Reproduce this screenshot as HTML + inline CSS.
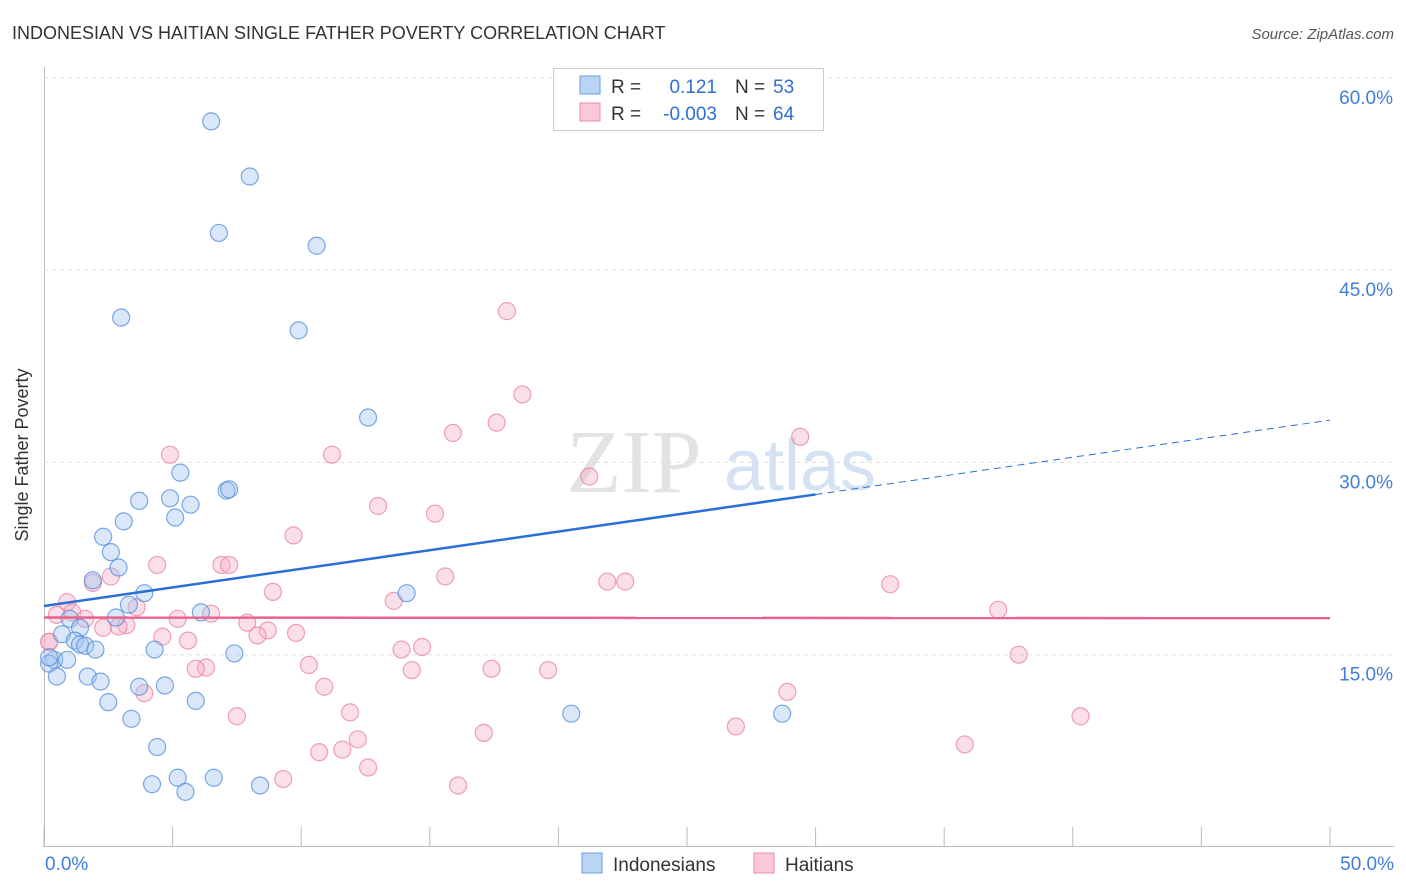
<!DOCTYPE html>
<html><head><meta charset="utf-8"><style>
body{margin:0;background:#fff;font-family:"Liberation Sans",sans-serif;}
svg{display:block}
</style></head><body>
<svg id="c" width="1406" height="892" xmlns="http://www.w3.org/2000/svg">
<text x="12" y="39" font-size="18" fill="#333">INDONESIAN VS HAITIAN SINGLE FATHER POVERTY CORRELATION CHART</text>
<text x="1394" y="39" font-size="15" fill="#555" font-style="italic" text-anchor="end">Source: ZipAtlas.com</text>
<text x="634" y="492" font-size="90" fill="#e3e3e3" font-family="Liberation Serif,serif" text-anchor="middle">ZIP</text>
<text x="800" y="490" font-size="72" fill="#d4e2f4" text-anchor="middle">atlas</text>
<g id="grid"></g><g id="pts"></g><g id="lines"></g>
<text x="28" y="455" font-size="18" fill="#333" transform="rotate(-90 28 455)" text-anchor="middle">Single Father Poverty</text>
<g>
<rect x="553.5" y="68.5" width="270" height="62" fill="#fff" stroke="#ccc"/>
<rect x="580" y="76" width="20" height="18" fill="#bcd4f4" stroke="#6a9fe0"/>
<rect x="580" y="103" width="20" height="18" fill="#f9c9d7" stroke="#ec8eab"/>
<text x="611" y="93" font-size="19" fill="#333">R = </text><text x="717" y="93" font-size="19" fill="#2f6fd0" text-anchor="end">0.121</text>
<text x="735" y="93" font-size="19" fill="#333">N = </text><text x="773" y="93" font-size="19" fill="#2f6fd0">53</text>
<text x="611" y="120" font-size="19" fill="#333">R = </text><text x="717" y="120" font-size="19" fill="#2f6fd0" text-anchor="end">-0.003</text>
<text x="735" y="120" font-size="19" fill="#333">N = </text><text x="773" y="120" font-size="19" fill="#2f6fd0">64</text>
</g>
<g>
<rect x="582" y="853" width="20" height="20" fill="#bcd4f4" stroke="#6a9fe0"/>
<text x="613" y="871" font-size="19" fill="#333">Indonesians</text>
<rect x="754" y="853" width="20" height="20" fill="#f9c9d7" stroke="#ec8eab"/>
<text x="785" y="871" font-size="19" fill="#333">Haitians</text>
</g>
</svg>
<script>
const xTicks=[0,5,10,15,20,25,30,35,40,45,50];
const yTicks=[15,30,45,60];
const indoX=[6.5,8.0,6.8,10.6,3.0,9.9,12.6,5.3,7.1,7.2,3.7,4.9,5.7,5.1,3.1,2.3,2.6,2.9,1.9,3.9,14.1,3.3,6.1,2.8,1.0,1.4,0.7,1.2,1.4,1.6,2.0,4.3,7.4,0.4,0.9,0.2,0.5,1.7,2.2,3.7,4.7,2.5,5.9,3.4,20.5,28.7,4.4,5.2,6.6,4.2,8.4,5.5,0.2];
const indoY=[56.6,52.3,47.9,46.9,41.3,40.3,33.5,29.2,27.8,27.9,27.0,27.2,26.7,25.7,25.4,24.2,23.0,21.8,20.8,19.8,19.8,18.9,18.3,17.9,17.8,17.1,16.6,16.1,15.8,15.7,15.4,15.4,15.1,14.6,14.6,14.3,13.3,13.3,12.9,12.5,12.6,11.3,11.4,10.0,10.4,10.4,7.8,5.4,5.4,4.9,4.8,4.3,14.8];
const haitiX=[18.0,18.6,15.9,17.6,29.4,4.9,11.2,21.2,12.99,15.2,9.7,4.4,6.9,7.2,2.6,1.9,15.6,21.9,22.6,32.9,8.9,0.9,3.6,13.6,37.1,0.5,1.1,1.6,5.2,6.5,7.9,3.2,2.3,2.9,8.7,9.8,4.6,5.6,8.3,0.2,13.9,14.7,37.9,6.3,5.9,10.3,14.3,17.4,19.6,10.9,3.9,28.9,7.5,11.9,40.3,17.1,26.9,10.7,11.6,12.2,12.6,35.8,9.3,16.1,0.2];
const haitiY=[41.8,35.3,32.3,33.1,32.0,30.6,30.6,28.9,26.6,26.0,24.3,22.0,22.0,22.0,21.1,20.6,21.1,20.7,20.7,20.5,19.9,19.1,18.7,19.2,18.5,18.1,18.3,17.8,17.8,18.2,17.5,17.3,17.1,17.2,16.9,16.7,16.4,16.1,16.5,16.0,15.4,15.6,15.0,14.0,13.9,14.2,13.8,13.9,13.8,12.5,12.0,12.1,10.2,10.5,10.2,8.9,9.4,7.4,7.6,8.4,6.2,8.0,5.3,4.8,16.0];
const X=v=>44+v*25.72, Y=v=>847-v*12.82;
const NS="http://www.w3.org/2000/svg";
function mk(t,a,p){const e=document.createElementNS(NS,t);for(const k in a)e.setAttribute(k,a[k]);p.appendChild(e);return e;}
const g=document.getElementById('grid');
const ax=mk('line',{x1:44.5,y1:67,x2:44.5,y2:847,stroke:'#bbb'},g);


const bx=mk('line',{x1:44,y1:846.5,x2:1394,y2:846.5,stroke:'#bbb'},g);


yTicks.forEach(t=>{
 const l=mk('line',{x1:44,x2:1394,y1:Y(t),y2:Y(t),stroke:'#ddd','stroke-dasharray':'4,4'},g);
 
 
 const tx=mk('text',{x:1393,y:Y(t)+26,'font-size':19,fill:'#3f7fd8','text-anchor':'end'},g);
 tx.textContent=t.toFixed(1)+'%';
 
 
});
xTicks.forEach(t=>{
 const l=mk('line',{x1:X(t),x2:X(t),y1:827,y2:847,stroke:'#bbb'},g);
 
 
});
[[0,'0.0%','start',45],[50,'50.0%','end',1394]].forEach(d=>{
 const tx=mk('text',{x:d[3],y:870,'font-size':19,fill:'#3f7fd8','text-anchor':d[2]},g);
 tx.textContent=d[1];
 
 
});
const p=document.getElementById('pts');
haitiX.forEach((x,i)=>{
 const c=mk('circle',{cx:X(x),cy:Y(haitiY[i]),r:8.5,fill:'rgba(246,175,198,0.4)',stroke:'rgba(234,130,162,0.75)','stroke-width':1.2},p);
 
 
});
indoX.forEach((x,i)=>{
 const c=mk('circle',{cx:X(x),cy:Y(indoY[i]),r:8.5,fill:'rgba(160,195,240,0.4)',stroke:'rgba(80,140,220,0.75)','stroke-width':1.2},p);
 
 
});
const L=document.getElementById('lines');
const b0=18.8,b1=0.29;
const t1=mk('line',{x1:X(0),y1:Y(b0),x2:X(30),y2:Y(b0+30*b1),stroke:'#2a6fd6','stroke-width':2.5},L);


const t2=mk('line',{x1:X(30),y1:Y(b0+30*b1),x2:X(50),y2:Y(b0+50*b1),stroke:'#2a6fd6','stroke-width':1,'stroke-dasharray':'7,5'},L);


const t3=mk('line',{x1:X(0),y1:Y(17.9),x2:X(50),y2:Y(17.85),stroke:'#e8628c','stroke-width':2.5},L);


</script>
</body></html>
